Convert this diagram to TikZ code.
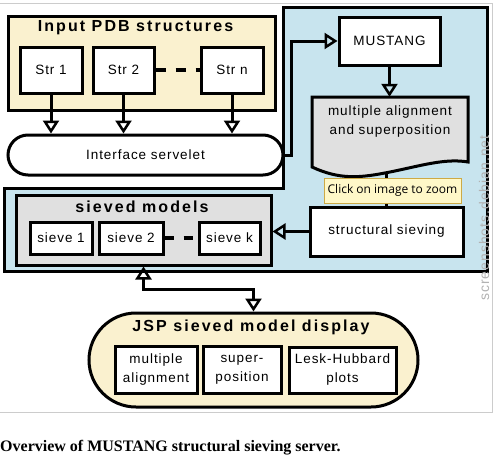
\documentclass[tikz,border=0pt]{standalone}
\usepackage{fontspec}
\usepackage{tikz}
\usetikzlibrary{arrows.meta}
\setmainfont{Liberation Serif}
\newfontfamily\diagfont[LetterSpace=7]{Liberation Sans}
\newfontfamily\titlefont[LetterSpace=13]{Liberation Sans}
\newfontfamily\tipfont{Open Sans}
\definecolor{paleyellow}{RGB}{250,241,207}
\definecolor{paleblue}{RGB}{200,228,238}
\definecolor{palegray}{RGB}{224,224,224}
\definecolor{tipyellow}{RGB}{255,248,200}
\definecolor{tipborder}{RGB}{205,170,70}

\tikzset{
  box/.style={draw, line width=3pt, fill=white, inner sep=0pt, align=center,
    font=\diagfont\fontsize{13.5}{19}\selectfont},
  group/.style={draw, line width=3pt, inner sep=0pt},
  title/.style={font=\titlefont\bfseries\fontsize{16}{18}\selectfont},
  opentip/.tip={Triangle[open, length=13pt, width=16pt, line width=2.5pt]},
  tip/.style={line width=3pt, -opentip},
  dashes/.style={line width=4pt, dash pattern=on 10pt off 10pt},
}

\begin{document}
\begin{tikzpicture}[x=1pt, y=-1pt]
\useasboundingbox (0,0) rectangle (496,461);
% screenshot frame
\draw[gray!40, line width=1pt] (0,3) -- (492,3) -- (492,412) -- (0,412);

% blue panel
\draw[line width=3pt, fill=paleblue] (283,7) -- (487,7) -- (487,271) -- (4,271)
  -- (4,188) -- (283,188) -- cycle;
\node[rotate=90, text=gray!60, font=\diagfont\fontsize{14}{16}\selectfont] (mark) at (484,218) {screenshots.debian.net};

% input structures
\node[group, fill=paleyellow, minimum width=267pt, minimum height=94pt] (input) at (141.5,63) {};
\node[title] (inputtitle) at (135.5,28) {Input PDB structures};
\node[box, minimum width=62pt, minimum height=46pt] (str1) at (51,70) {Str 1};
\node[box, minimum width=61pt, minimum height=46pt] (str2) at (123.5,70) {Str 2};
\node[box, minimum width=62pt, minimum height=46pt] (strn) at (232,70) {Str n};
\draw[dashes] (str2) -- (strn);

\node[box, rounded corners=20pt, minimum width=275pt, minimum height=40pt] (servelet) at (145.5,155) {Interface servelet};

\draw[tip] (str1.south) -- (str1.south |- servelet.north);
\draw[tip] (str2.south) -- (str2.south |- servelet.north);
\draw[tip] (strn.south) -- (strn.south |- servelet.north);

% MUSTANG side
\node[box, minimum width=101pt, minimum height=48pt] (mustang) at (389.5,41) {MUSTANG};
\draw[tip] (servelet.east) -- ++(7,0) |- (mustang.west);

\draw[line width=3pt, fill=palegray] (312,97) -- (468,97) -- (468,162)
  .. controls (445,158) and (420,166) .. (390,172)
  .. controls (360,178) and (340,180) .. (312,167) -- cycle;
\node[font=\diagfont\fontsize{13.5}{19}\selectfont, align=center, inner sep=0pt,
  minimum width=156pt, minimum height=50pt] (align) at (390,122) {multiple alignment\\and superposition};
\draw[tip] (mustang.south) -- (mustang.south |- align.north);

\node[box, minimum width=153pt, minimum height=49pt] (sieving) at (386.5,231.5) {structural sieving};
\coordinate (docend) at (386.5,172);
\draw[line width=3pt] (docend) -- (sieving.north);

\node[draw=tipborder, fill=tipyellow, font=\tipfont\fontsize{12}{14}\selectfont,
  minimum width=137pt, minimum height=25pt, inner sep=0pt] (zoomtip) at (392.5,190.5) {Click on image to zoom};

% sieved models
\node[group, fill=palegray, minimum width=255pt, minimum height=70pt] (sieved) at (143.5,230) {};
\node[title] (sievedtitle) at (142,207) {sieved models};
\node[box, minimum width=62pt, minimum height=32pt] (sieve1) at (61,238) {sieve 1};
\node[box, minimum width=64pt, minimum height=32pt] (sieve2) at (131,238) {sieve 2};
\node[box, minimum width=61pt, minimum height=32pt] (sievek) at (229.5,238) {sieve k};
\draw[line width=4pt, dash pattern=on 9pt off 10pt] (sieve2) -- (sievek);
\draw[tip] (sieving.west) -- (sieving.west -| sieved.east);

% JSP display
\node[group, fill=paleyellow, rounded corners=47pt, minimum width=329pt, minimum height=94pt] (jsp) at (253.5,360) {};
\node[title] (jsptitle) at (251,327) {JSP sieved model display};
\node[box, minimum width=82pt, minimum height=47pt] (malign) at (156,369.5) {multiple\\alignment};
\node[box, minimum width=78pt, minimum height=47pt] (superpos) at (242,369.5) {super-\\position};
\node[box, minimum width=107pt, minimum height=46pt] (lesk) at (342.5,370) {Lesk-Hubbard\\plots};

\draw[line width=3pt, opentip-opentip] (sieved.south) -- ++(0,23) -| (jsp.north);

% caption
\node[anchor=base west, inner sep=0pt, font=\bfseries\fontsize{16}{18}\selectfont] (caption) at (0,451)
  {Overview of MUSTANG structural sieving server.};
\end{tikzpicture}
\end{document}
